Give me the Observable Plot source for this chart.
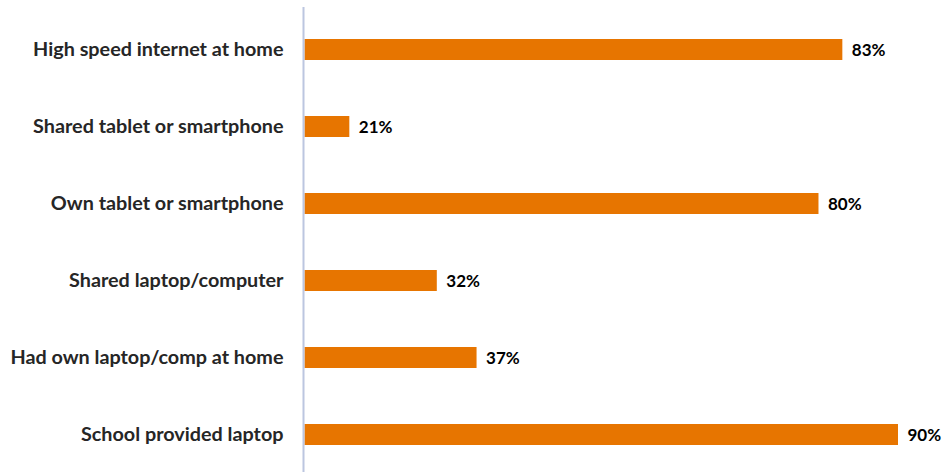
<!DOCTYPE html>
<html>
<head>
<meta charset="utf-8">
<script src="https://cdn.jsdelivr.net/npm/d3@7"></script>
<script src="https://cdn.jsdelivr.net/npm/@observablehq/plot@0.6"></script>
<style>
  html, body { margin: 0; padding: 0; background: #fff; }
  #chart svg { display: block; }
</style>
</head>
<body>
<div id="chart"></div>
<script>
const categories = [
  "High speed internet at home",
  "Shared tablet or smartphone",
  "Own tablet or smartphone",
  "Shared laptop/computer",
  "Had own laptop/comp at home",
  "School provided laptop"
];
const values = [83, 21, 80, 32, 37, 90];
const valueLabels = ["83%", "21%", "80%", "32%", "37%", "90%"];

const data = categories.map((c, i) => ({category: c, value: values[i], label: valueLabels[i]}));
const xMin = 15.3;

const chart = Plot.plot({
  width: 942,
  height: 472,
  marginLeft: 304,
  marginRight: 44,
  marginTop: 7,
  marginBottom: 0,
  style: {fontFamily: "Lato, 'Open Sans', sans-serif", background: "#fff"},
  x: {domain: [xMin, 90], axis: null},
  y: {domain: categories, paddingInner: 0.73, paddingOuter: 0.361, align: 0.544, label: null},
  marks: [
    Plot.barX(data, {x1: xMin, x2: "value", y: "category", fill: "#E77500", insetLeft: 0.5}),
    Plot.ruleX([xMin], {stroke: "#bcc6e0", strokeWidth: 2, dx: -1}),
    Plot.text(data, {x: "value", y: "category", text: "label", dx: 9, dy: 1, textAnchor: "start",
      fontSize: 17, fontWeight: "bold", fill: "#000"}),
    Plot.axisY({tickSize: 0, tickPadding: 21, fontSize: 19.8, fontWeight: "bold", color: "#262626", label: null})
  ]
});
document.getElementById("chart").append(chart);
</script>
</body>
</html>
